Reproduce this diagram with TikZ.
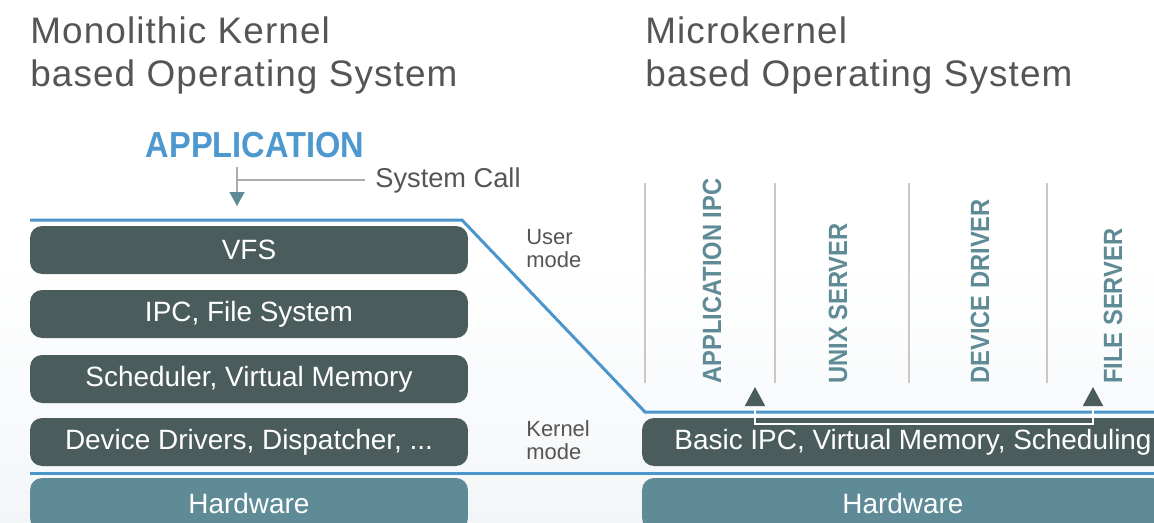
\documentclass[tikz,border=0pt]{standalone}
\usepackage{fontspec}
\setmainfont{Liberation Sans}
\newfontfamily\titlefont[LetterSpace=3]{Liberation Sans}
\newfontfamily\condfont[FakeStretch=0.9]{Liberation Sans}
\usetikzlibrary{arrows.meta,calc}
\definecolor{BoxDark}{RGB}{74,93,92}
\definecolor{HwTeal}{RGB}{94,139,150}
\definecolor{ModeBlue}{RGB}{74,150,204}
\definecolor{AppBlue}{RGB}{77,152,206}
\definecolor{TextGrey}{RGB}{85,85,85}
\definecolor{SepGrey}{RGB}{200,200,200}
\definecolor{BgGrey}{RGB}{243,246,248}
\begin{document}
\begin{tikzpicture}[x=.02cm,y=-.02cm,>=Latex,
  kbox/.style={fill=BoxDark,rounded corners=.24cm,minimum height=.96cm,inner sep=0,text=white,font=\fontsize{15.9}{17}\selectfont},
  hwbox/.style={kbox,fill=HwTeal,minimum height=1.04cm},
  modeline/.style={ModeBlue,line width=1.7pt},
  sepline/.style={SepGrey,line width=1.1pt},
  callline/.style={black!33,line width=.8pt},
  srvlabel/.style={rotate=90,anchor=west,inner sep=0,text=HwTeal,font=\condfont\bfseries\fontsize{15}{17}\selectfont},
  greytext/.style={inner sep=0,text=TextGrey},
  title/.style={greytext,anchor=base west,font=\titlefont\fontsize{21}{24}\selectfont}]
\useasboundingbox (0,0) rectangle (1154,522);\clip (0,0) rectangle (1154,522);
\shade[top color=white,bottom color=BgGrey,middle color=white] (0,0) rectangle (1154,522);
\node[title] (titleL) at (30,43){Monolithic Kernel};\node[title] (titleL2) at (30,86){based Operating System};
\node[title] (titleR) at (645,43){Microkernel};\node[title] (titleR2) at (645,86){based Operating System};
\foreach \x in {645,775,909,1047}{\draw[sepline] (\x,183)--(\x,383);}
\draw[modeline] (30,220)--(462,220)--(645,412)--(1154,412);\draw[modeline] (30,473)--(1154,473);
\node[kbox,minimum width=8.76cm] (vfs) at (249,250){VFS};
\node[kbox,minimum width=8.76cm] (ipcfs) at (249,314){IPC, File System};
\node[kbox,minimum width=8.76cm] (sched) at (249,379){Scheduler, Virtual Memory};
\node[kbox,minimum width=8.76cm] (drivers) at (249,442){Device Drivers, Dispatcher, ...};
\node[hwbox,minimum width=8.76cm] (hwL) at (249,504){Hardware};
\node[kbox,minimum width=10.84cm] (basic) at (913,442){Basic IPC, Virtual Memory, Scheduling};
\node[hwbox,minimum width=10.44cm] (hwR) at (903,504){Hardware};
\node[greytext,anchor=north west,align=left,font=\fontsize{12.5}{13}\selectfont] (user) at (526,229){User\\mode};
\node[greytext,anchor=north west,align=left,font=\fontsize{12.5}{13}\selectfont] (kernel) at (526,420){Kernel\\mode};
\node[inner sep=0,anchor=base,text=AppBlue,font=\condfont\bfseries\fontsize{20.6}{22}\selectfont] (app) at (255,157){APPLICATION};
\node[greytext,anchor=base west,font=\fontsize{15.5}{17}\selectfont] (syscall) at (375,187){System Call};
\coordinate (callin) at (237,206);
\draw[callline,-{Triangle[width=.3cm,length=.28cm,color=HwTeal]}] (callin) ++(0,-39)--(callin);
\draw[callline] (syscall.west) ++(-10,0)--(callin |- syscall.west);
\node[srvlabel] (appipc) at (712,384){APPLICATION IPC};\node[srvlabel] (unix) at (838,384){UNIX SERVER};
\node[srvlabel] (devdrv) at (980,384){DEVICE DRIVER};\node[srvlabel] (filesrv) at (1113,384){FILE SERVER};
\coordinate (ipcL) at (755,387);\coordinate (ipcR) at (1093,387);
\draw[white,line width=1.1pt,{Triangle[width=.4cm,length=.38cm,color=BoxDark]}-{Triangle[width=.4cm,length=.38cm,color=BoxDark]}] (ipcL)--++(0,37)-|(ipcR);
\end{tikzpicture}
\end{document}
